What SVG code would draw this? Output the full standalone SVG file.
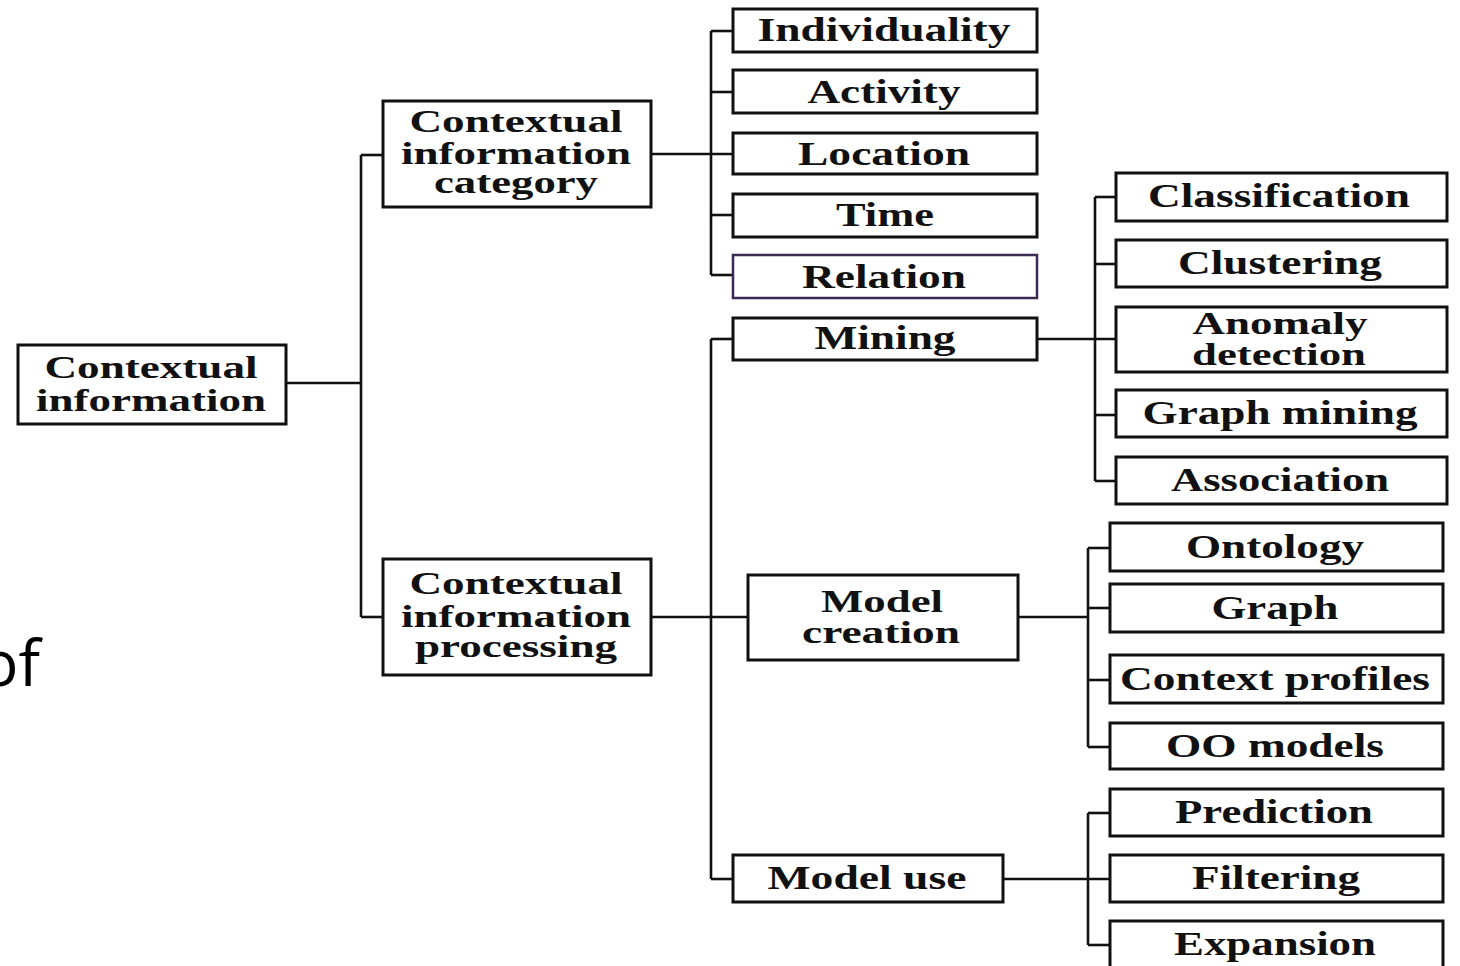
<svg xmlns="http://www.w3.org/2000/svg" width="1460" height="966" viewBox="0 0 1460 966">
  <style>
    .box { fill: #ffffff; stroke: #111111; stroke-width: 3; }
    .box.purple { stroke: #3a2b52; stroke-width: 2.5; }
    .lbl { font-family: "Liberation Serif", "Times New Roman", serif; font-weight: bold; fill: #111111; text-anchor: middle; }
    .s1 { font-size: 34px; }
    .s2 { font-size: 31px; }
    .wire { fill: none; stroke: #111111; stroke-width: 2.6; }
    .side { font-family: "Open Sans", "Noto Sans", sans-serif; font-size: 64px; fill: #000000; }
  </style>

  <rect width="1460" height="966" fill="#ffffff"/>

  <!-- fragment of surrounding slide text, clipped by the left edge -->
  <text class="side" x="-20" y="686">of</text>

  <!-- connectors -->
  <g id="connectors" class="wire">
    <path d="M286 383 H361"/>
    <path d="M361 155 V617"/>
    <path d="M361 155 H383"/>
    <path d="M361 617 H383"/>
    <!-- category branch -->
    <path d="M651 154 H733"/>
    <path d="M711 31 V275"/>
    <path d="M711 31 H733"/>
    <path d="M711 92 H733"/>
    <path d="M711 215 H733"/>
    <path d="M711 275 H733"/>
    <!-- processing branch -->
    <path d="M651 617 H748"/>
    <path d="M711 339 V879"/>
    <path d="M711 339 H733"/>
    <path d="M711 879 H733"/>
    <!-- mining -->
    <path d="M1037 339 H1116"/>
    <path d="M1095 197 V481"/>
    <path d="M1095 197 H1116"/>
    <path d="M1095 264 H1116"/>
    <path d="M1095 415 H1116"/>
    <path d="M1095 481 H1116"/>
    <!-- model creation -->
    <path d="M1018 617 H1088"/>
    <path d="M1088 548 V747"/>
    <path d="M1088 548 H1110"/>
    <path d="M1088 608 H1110"/>
    <path d="M1088 680 H1110"/>
    <path d="M1088 747 H1110"/>
    <!-- model use -->
    <path d="M1003 879 H1110"/>
    <path d="M1088 813 V945"/>
    <path d="M1088 813 H1110"/>
    <path d="M1088 945 H1110"/>
  </g>

  <!-- root -->
  <g id="contextual-information">
    <rect class="box" x="18" y="345" width="268" height="79"/>
    <text class="lbl s2" x="151" y="378" textLength="213" lengthAdjust="spacingAndGlyphs">Contextual</text>
    <text class="lbl s2" x="151" y="411" textLength="230" lengthAdjust="spacingAndGlyphs">information</text>
  </g>

  <g id="category">
    <rect class="box" x="383" y="101" width="268" height="106"/>
    <text class="lbl s2" x="516" y="132" textLength="213" lengthAdjust="spacingAndGlyphs">Contextual</text>
    <text class="lbl s2" x="516" y="164" textLength="230" lengthAdjust="spacingAndGlyphs">information</text>
    <text class="lbl s2" x="516" y="193" textLength="164" lengthAdjust="spacingAndGlyphs">category</text>
  </g>

  <g id="processing">
    <rect class="box" x="383" y="559" width="268" height="116"/>
    <text class="lbl s2" x="516" y="594" textLength="213" lengthAdjust="spacingAndGlyphs">Contextual</text>
    <text class="lbl s2" x="516" y="627" textLength="230" lengthAdjust="spacingAndGlyphs">information</text>
    <text class="lbl s2" x="516" y="657" textLength="202" lengthAdjust="spacingAndGlyphs">processing</text>
  </g>

  <!-- category children -->
  <g id="individuality">
    <rect class="box" x="733" y="9" width="304" height="43"/>
    <text class="lbl s1" x="884" y="41" textLength="253" lengthAdjust="spacingAndGlyphs">Individuality</text>
  </g>
  <g id="activity">
    <rect class="box" x="733" y="70" width="304" height="43"/>
    <text class="lbl s1" x="884" y="103" textLength="153" lengthAdjust="spacingAndGlyphs">Activity</text>
  </g>
  <g id="location">
    <rect class="box" x="733" y="133" width="304" height="41"/>
    <text class="lbl s1" x="884" y="165" textLength="172" lengthAdjust="spacingAndGlyphs">Location</text>
  </g>
  <g id="time">
    <rect class="box" x="733" y="194" width="304" height="43"/>
    <text class="lbl s1" x="885" y="226" textLength="98" lengthAdjust="spacingAndGlyphs">Time</text>
  </g>
  <g id="relation">
    <rect class="box purple" x="733" y="255" width="304" height="43"/>
    <text class="lbl s1" x="884" y="288" textLength="164" lengthAdjust="spacingAndGlyphs">Relation</text>
  </g>

  <!-- processing children -->
  <g id="mining">
    <rect class="box" x="733" y="318" width="304" height="42"/>
    <text class="lbl s1" x="885" y="349" textLength="141" lengthAdjust="spacingAndGlyphs">Mining</text>
  </g>
  <g id="model-creation">
    <rect class="box" x="748" y="575" width="270" height="85"/>
    <text class="lbl s2" x="882" y="612" textLength="122" lengthAdjust="spacingAndGlyphs">Model</text>
    <text class="lbl s2" x="881" y="643" textLength="158" lengthAdjust="spacingAndGlyphs">creation</text>
  </g>
  <g id="model-use">
    <rect class="box" x="733" y="855" width="270" height="47"/>
    <text class="lbl s1" x="867" y="889" textLength="199" lengthAdjust="spacingAndGlyphs">Model use</text>
  </g>

  <!-- mining children -->
  <g id="classification">
    <rect class="box" x="1116" y="173" width="331" height="48"/>
    <text class="lbl s1" x="1279" y="207" textLength="262" lengthAdjust="spacingAndGlyphs">Classification</text>
  </g>
  <g id="clustering">
    <rect class="box" x="1116" y="240" width="331" height="47"/>
    <text class="lbl s1" x="1280" y="274" textLength="204" lengthAdjust="spacingAndGlyphs">Clustering</text>
  </g>
  <g id="anomaly-detection">
    <rect class="box" x="1116" y="307" width="331" height="65"/>
    <text class="lbl s2" x="1280" y="334" textLength="175" lengthAdjust="spacingAndGlyphs">Anomaly</text>
    <text class="lbl s2" x="1279" y="365" textLength="174" lengthAdjust="spacingAndGlyphs">detection</text>
  </g>
  <g id="graph-mining">
    <rect class="box" x="1116" y="390" width="331" height="47"/>
    <text class="lbl s1" x="1280" y="424" textLength="275" lengthAdjust="spacingAndGlyphs">Graph mining</text>
  </g>
  <g id="association">
    <rect class="box" x="1116" y="457" width="331" height="47"/>
    <text class="lbl s1" x="1280" y="491" textLength="218" lengthAdjust="spacingAndGlyphs">Association</text>
  </g>

  <!-- model creation children -->
  <g id="ontology">
    <rect class="box" x="1110" y="523" width="333" height="48"/>
    <text class="lbl s1" x="1275" y="558" textLength="178" lengthAdjust="spacingAndGlyphs">Ontology</text>
  </g>
  <g id="graph">
    <rect class="box" x="1110" y="584" width="333" height="48"/>
    <text class="lbl s1" x="1275" y="619" textLength="127" lengthAdjust="spacingAndGlyphs">Graph</text>
  </g>
  <g id="context-profiles">
    <rect class="box" x="1110" y="655" width="333" height="48"/>
    <text class="lbl s1" x="1275" y="690" textLength="310" lengthAdjust="spacingAndGlyphs">Context profiles</text>
  </g>
  <g id="oo-models">
    <rect class="box" x="1110" y="723" width="333" height="46"/>
    <text class="lbl s1" x="1275" y="757" textLength="218" lengthAdjust="spacingAndGlyphs">OO models</text>
  </g>

  <!-- model use children -->
  <g id="prediction">
    <rect class="box" x="1110" y="789" width="333" height="47"/>
    <text class="lbl s1" x="1274" y="823" textLength="198" lengthAdjust="spacingAndGlyphs">Prediction</text>
  </g>
  <g id="filtering">
    <rect class="box" x="1110" y="855" width="333" height="47"/>
    <text class="lbl s1" x="1276" y="889" textLength="168" lengthAdjust="spacingAndGlyphs">Filtering</text>
  </g>
  <g id="expansion">
    <rect class="box" x="1110" y="921" width="333" height="50"/>
    <text class="lbl s1" x="1275" y="955" textLength="202" lengthAdjust="spacingAndGlyphs">Expansion</text>
  </g>
</svg>
